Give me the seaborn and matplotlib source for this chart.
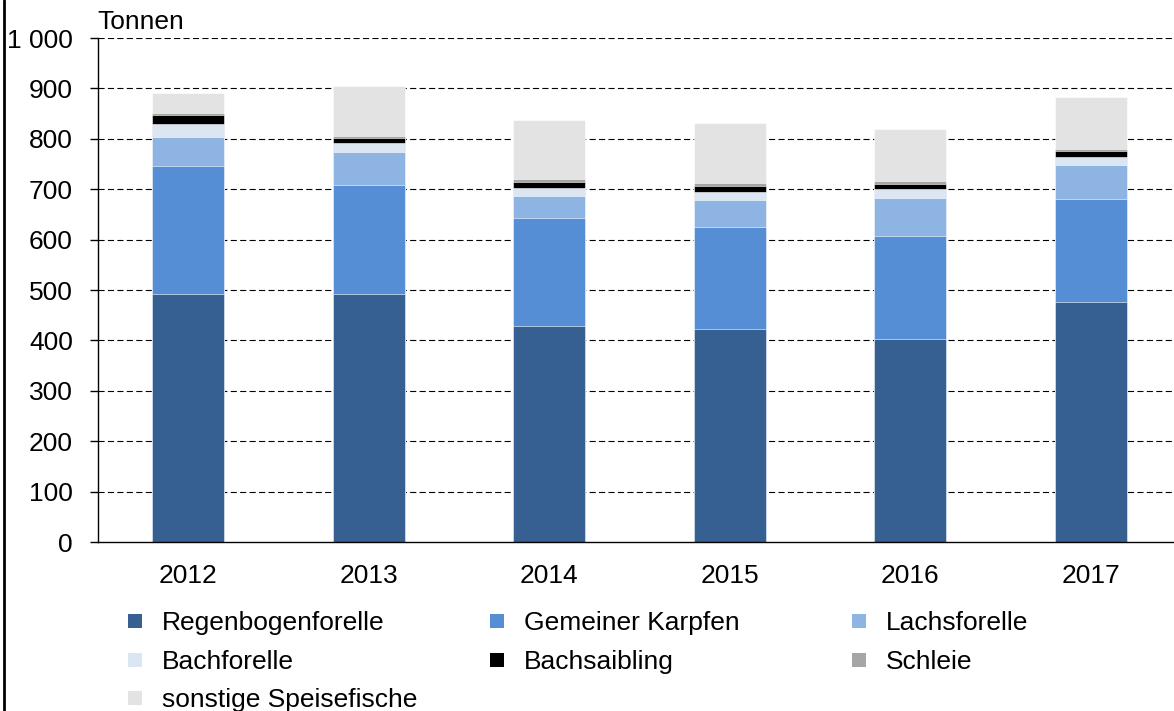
import matplotlib
matplotlib.use("Agg")
import matplotlib.pyplot as plt
import numpy as np
import seaborn as sns
from matplotlib.lines import Line2D
from matplotlib.patches import Rectangle

years = ["2012", "2013", "2014", "2015", "2016", "2017"]
regenbogenforelle = [493, 493, 428, 423, 403, 476]
gemeiner_karpfen = [254, 215, 214, 202, 205, 205]
lachsforelle = [56, 65, 45, 53, 75, 68]
bachforelle = [26, 18, 15, 17, 17, 14]
bachsaibling = [19, 10, 13, 11, 10, 13]
schleie = [4, 5, 5, 7, 6, 4]
sonstige = [38, 99, 117, 119, 103, 102]

series_names = ["Regenbogenforelle", "Gemeiner Karpfen", "Lachsforelle",
                "Bachforelle", "Bachsaibling", "Schleie", "sonstige Speisefische"]
series_values = [regenbogenforelle, gemeiner_karpfen, lachsforelle,
                 bachforelle, bachsaibling, schleie, sonstige]
colors = ["#366092", "#558ED5", "#8EB4E3", "#DCE6F2", "#000000", "#A6A6A6", "#E3E3E3"]

y_ticks = [0, 100, 200, 300, 400, 500, 600, 700, 800, 900, 1000]
y_tick_labels = ["0", "100", "200", "300", "400", "500", "600", "700", "800", "900", "1 000"]

sns.set_theme(style="white")
plt.rcParams["font.family"] = ["Liberation Sans", "DejaVu Sans"]
plt.rcParams["text.color"] = "black"
plt.rcParams["xtick.color"] = "black"
plt.rcParams["ytick.color"] = "black"
FS = 19

fig = plt.figure(figsize=(11.74, 7.11), dpi=100)
ax = fig.add_axes([98 / 1174, 1 - 542 / 711, 1083 / 1174, 504 / 711])

# stacked bars: draw cumulative totals from the top layer down
cum = np.cumsum(np.array(series_values), axis=0)
for i in range(len(series_names) - 1, -1, -1):
    sns.barplot(x=years, y=cum[i], color=colors[i], saturation=1, width=0.4,
                edgecolor="white", linewidth=0.4, ax=ax, zorder=2)

ax.set_ylim(0, 1000)
ax.set_xlim(-0.5, 5.5)
ax.set_yticks(y_ticks)
ax.set_yticklabels(y_tick_labels)
ax.set_xlabel("")
ax.set_ylabel("")
for y in y_ticks[1:]:
    ax.axhline(y, color="black", lw=0.8, linestyle=(0, (5.5, 3)), zorder=1)

for side in ["top", "right"]:
    ax.spines[side].set_visible(False)
for side in ["left", "bottom"]:
    ax.spines[side].set_color("black")
    ax.spines[side].set_linewidth(1)
ax.tick_params(axis="y", length=6, width=1, color="black", pad=12, labelsize=FS,
               left=True, labelcolor="black")
ax.tick_params(axis="x", length=0, pad=16, labelsize=FS, labelcolor="black")

fig.text(97 / 1174, 1 - 29 / 711, "Tonnen", fontsize=FS, ha="left", va="baseline")

# legend laid out row by row in three columns
col_x = [135, 497, 859]
row_y = [621, 660, 698]
for k, (name, c) in enumerate(zip(series_names, colors)):
    cx = col_x[k % 3]
    cy = row_y[k // 3]
    fig.patches.append(Rectangle(((cx - 7) / 1174, 1 - (cy + 7) / 711), 14 / 1174, 14 / 711,
                                 transform=fig.transFigure, facecolor=c, edgecolor="none"))
    fig.text((cx + 27) / 1174, 1 - (cy + 9) / 711, name, fontsize=FS, ha="left", va="baseline")

# frame line on the left edge
fig.lines.append(Line2D([4 / 1174, 4 / 1174], [0, 1], transform=fig.transFigure,
                        color="black", lw=2))

fig.savefig("out.png", dpi=100)
